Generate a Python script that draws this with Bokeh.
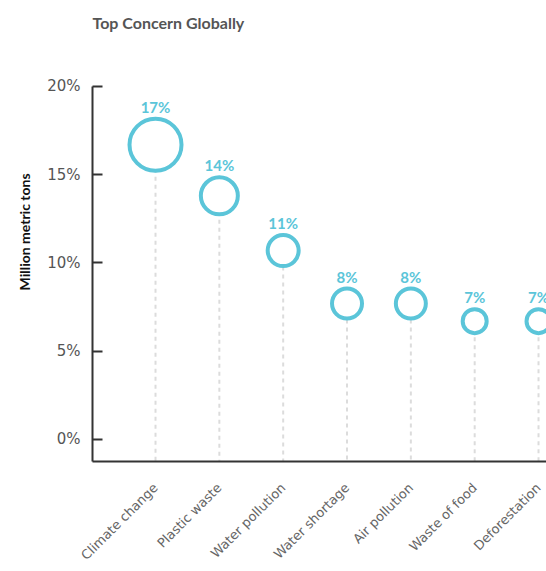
import math
from bokeh.plotting import figure
from bokeh.models import ColumnDataSource, Range1d, FixedTicker, PrintfTickFormatter, Title
from bokeh.core.properties import value
from bokeh.embed import file_html
from bokeh.resources import INLINE

categories = ["Climate change", "Plastic waste", "Water pollution", "Water shortage",
              "Air pollution", "Waste of food", "Deforestation"]
shares = [16.7, 13.8, 10.7, 7.7, 7.7, 6.7, 6.7]
labels = ["17%", "14%", "11%", "8%", "8%", "7%", "7%"]
bubble_size = [52, 37, 31, 30, 30, 24, 24]
y_ticks = [0, 5, 10, 15, 20]

FONT = "Lato"
AXFONT = "DejaVu Sans"
CYAN = "#5bc5d9"

TOP, BOTTOM = 34, 110
frame_h = 571 - TOP - BOTTOM
y_start = -1.25
y_end = y_start + frame_h / 17.65

xs = list(range(len(categories)))
src = ColumnDataSource(dict(
    x=xs, y=shares, lab=labels, size=bubble_size,
    base=[y_start] * len(xs),
    yoff=[-(s / 2 + 12) for s in bubble_size],
))

p = figure(width=546, height=571, output_backend="svg", toolbar_location=None,
           x_range=Range1d(-0.987, 6.125), y_range=Range1d(y_start, y_end),
           min_border_left=92, min_border_right=0, min_border_top=TOP,
           min_border_bottom=BOTTOM)
p.outline_line_color = None
p.xgrid.visible = False
p.ygrid.visible = False

p.title.text = "Top Concern Globally"
p.title.text_font = FONT
p.title.text_font_size = "16px"
p.title.text_font_style = "bold"
p.title.text_color = "#555555"
p.title.align = "left"
p.title.standoff = 6

p.segment(x0="x", y0="y", x1="x", y1="base", source=src, line_color="#dcdcdc",
          line_width=2, line_dash="4 4")
p.scatter(x="x", y="y", size="size", source=src, fill_color="white",
          line_color=CYAN, line_width=4)
p.text(x="x", y="y", text="lab", source=src, y_offset="yoff",
       text_align="center", text_baseline="middle", text_color=CYAN,
       text_font=value(FONT), text_font_size="15px", text_font_style="bold")

# y axis
ya = p.yaxis[0]
ya.ticker = FixedTicker(ticks=y_ticks)
ya.formatter = PrintfTickFormatter(format="%d%%")
ya.bounds = (y_start, max(y_ticks))
ya.major_tick_in = 10
ya.major_tick_out = 0
ya.minor_tick_line_color = None
ya.axis_line_width = 2
ya.axis_line_color = "#333333"
ya.major_tick_line_width = 2
ya.major_tick_line_color = "#333333"
ya.major_label_text_font = AXFONT
ya.major_label_text_font_size = "15px"
ya.major_label_text_color = "#555555"
ya.major_label_standoff = 12

# x axis
xa = p.xaxis[0]
xa.ticker = FixedTicker(ticks=xs)
xa.major_label_overrides = {i: c for i, c in zip(xs, categories)}
xa.major_label_orientation = math.pi / 4
xa.major_tick_line_color = None
xa.minor_tick_line_color = None
xa.axis_line_width = 2
xa.axis_line_color = "#333333"
xa.major_label_text_font = AXFONT
xa.major_label_text_font_size = "13px"
xa.major_label_text_color = "#666666"
xa.major_label_standoff = 18

ylab = Title(text="Million metric tons", align="left", offset=171,
             text_font=FONT, text_font_size="14px", text_font_style="bold",
             text_color="#111111", standoff=23)
p.add_layout(ylab, "left")

open("out.html", "w").write(file_html(p, INLINE))
